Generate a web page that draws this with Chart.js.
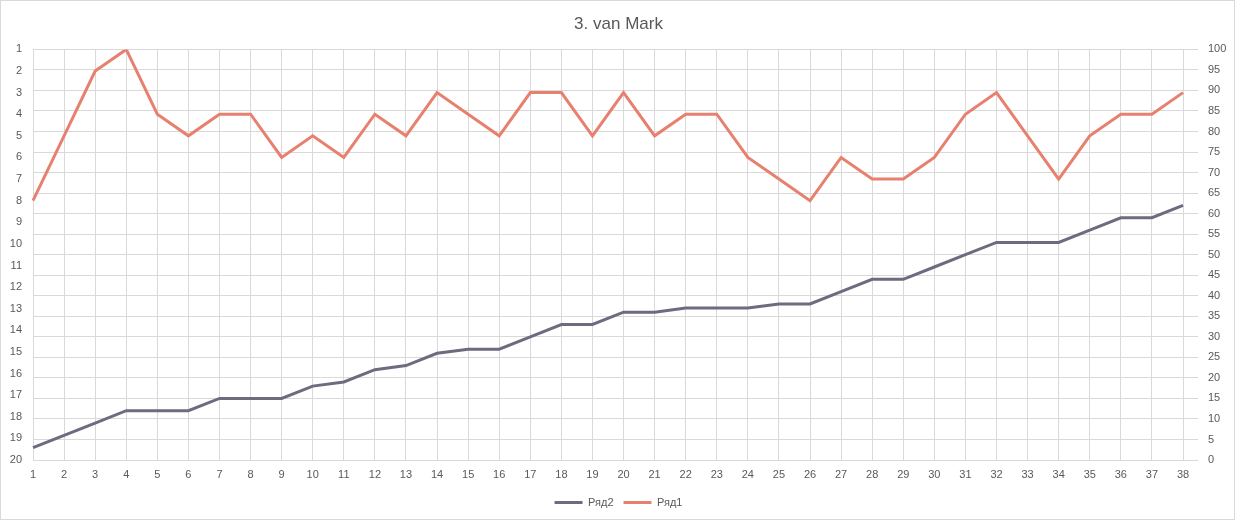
<!DOCTYPE html>
<html>
<head>
<meta charset="utf-8">
<script src="https://cdn.jsdelivr.net/npm/chart.js@4.4.1/dist/chart.umd.min.js"></script>
<style>
  html, body { margin: 0; padding: 0; background: #fff; }
  #wrap { position: absolute; left: 0; top: 0; width: 1237px; height: 522px; }
  #frame { position: absolute; left: 0; top: 0; width: 1233px; height: 518px; border: 1px solid #d9d9d9; pointer-events: none; }
</style>
</head>
<body>
<div id="wrap">
  <canvas id="c" width="1237" height="522"></canvas>
  <div id="frame"></div>
</div>
<script>
const categories = ['1','2','3','4','5','6','7','8','9','10','11','12','13','14','15','16','17','18','19','20','21','22','23','24','25','26','27','28','29','30','31','32','33','34','35','36','37','38'];
// Ряд1: league position (left axis, reversed 1..20)
const ryad1 = [8,5,2,1,4,5,4,4,6,5,6,4,5,3,4,5,3,3,5,3,5,4,4,6,7,8,6,7,7,6,4,3,5,7,5,4,4,3];
// Ряд2: cumulative points (right axis 0..100)
const ryad2 = [3,6,9,12,12,12,15,15,15,18,19,22,23,26,27,27,30,33,33,36,36,37,37,37,38,38,41,44,44,47,50,53,53,53,56,59,59,62];
const titleText = '3. van Mark';
const labelR1 = 'Ряд1';
const labelR2 = 'Ряд2';

const FONT = "'Liberation Sans', 'Open Sans', sans-serif";
const TXT = '#595959';
const GRID = '#d9d9d9';

new Chart(document.getElementById('c'), {
  type: 'line',
  data: {
    labels: categories,
    datasets: [
      { label: labelR2, data: ryad2, yAxisID: 'yR', borderColor: '#6f6a80', backgroundColor: '#6f6a80', borderWidth: 3, pointRadius: 0, tension: 0 },
      { label: labelR1, data: ryad1, yAxisID: 'yL', borderColor: '#e8806f', backgroundColor: '#e8806f', borderWidth: 3, pointRadius: 0, tension: 0 }
    ]
  },
  options: {
    responsive: false,
    animation: false,
    layout: { padding: { top: 0, bottom: 4, left: 0, right: 0 } },
    plugins: {
      title: {
        display: true, text: titleText, color: TXT,
        font: { family: FONT, size: 17, weight: 'normal' },
        padding: { top: 14, bottom: 15 }
      },
      legend: {
        position: 'bottom',
        labels: {
          color: TXT, font: { family: FONT, size: 11 },
          usePointStyle: true, pointStyle: 'line', pointStyleWidth: 28, boxHeight: 3, padding: 10
        }
      },
      tooltip: { enabled: false }
    },
    scales: {
      x: {
        offset: false,
        grid: { color: GRID, drawTicks: false, lineWidth: 1 },
        border: { color: GRID },
        ticks: { color: TXT, font: { family: FONT, size: 11 }, padding: 8, maxRotation: 0, autoSkip: false },
        afterFit: (s) => { s.height = 27; }
      },
      yL: {
        position: 'left', reverse: true, min: 1, max: 20,
        grid: { display: false, drawTicks: false },
        border: { display: false },
        ticks: { stepSize: 1, color: TXT, font: { family: FONT, size: 11 }, padding: 11 },
        afterFit: (s) => { s.width = 33; }
      },
      yR: {
        position: 'right', min: 0, max: 100,
        grid: { color: GRID, drawTicks: true, tickLength: 15, lineWidth: 1 },
        border: { display: false },
        ticks: { stepSize: 5, color: TXT, font: { family: FONT, size: 11 }, padding: 10 },
        afterFit: (s) => { s.width = 54; }
      }
    }
  }
});
</script>
</body>
</html>
